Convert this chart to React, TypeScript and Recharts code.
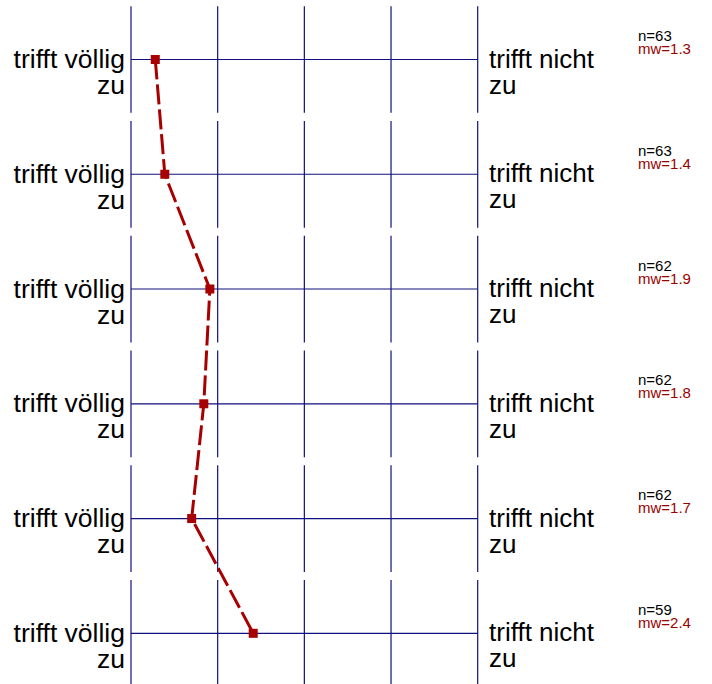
import React from 'react';
import { ComposedChart, Line, XAxis, YAxis, ReferenceLine } from 'recharts';

// one row per item, top to bottom
const ROWS = [0, 1, 2, 3, 4, 5];
const MEAN_VALUES = [1.28, 1.39, 1.91, 1.84, 1.7, 2.41];
const N_LABELS = ['n=63', 'n=63', 'n=62', 'n=62', 'n=62', 'n=59'];
const MW_LABELS = ['mw=1.3', 'mw=1.4', 'mw=1.9', 'mw=1.8', 'mw=1.7', 'mw=2.4'];
const LEFT_POLE = ['trifft völlig', 'zu'];
const RIGHT_POLE = ['trifft nicht', 'zu'];
const SCALE_STEPS = [1, 2, 3, 4, 5];

const GRID = '#10107e';
const RED = '#a80000';
const FONT = '"Liberation Sans", Arial, sans-serif';

const chartData = ROWS.map((row, i) => ({ row, mw: MEAN_VALUES[i] }));

const LeftTick = (props: any) => {
  const { y } = props;
  return (
    <g>
      <text x={125} y={y + 8.5} textAnchor="end" fontSize={26.5} fontFamily={FONT} fill="#000">
        {LEFT_POLE[0]}
      </text>
      <text x={125} y={y + 34.5} textAnchor="end" fontSize={26.5} fontFamily={FONT} fill="#000">
        {LEFT_POLE[1]}
      </text>
    </g>
  );
};

const RightTick = (props: any) => {
  const { y, index } = props;
  return (
    <g>
      <text x={489} y={y + 8} fontSize={26} fontFamily={FONT} fill="#000">
        {RIGHT_POLE[0]}
      </text>
      <text x={489} y={y + 34} fontSize={26} fontFamily={FONT} fill="#000">
        {RIGHT_POLE[1]}
      </text>
      <text x={638} y={y - 18.5} fontSize={15} fontFamily={FONT} fill="#000">
        {N_LABELS[index]}
      </text>
      <text x={638} y={y - 5.5} fontSize={15} fontFamily={FONT} fill="#990000">
        {MW_LABELS[index]}
      </text>
    </g>
  );
};

const SquareDot = (props: any) => {
  const { cx, cy, index } = props;
  return <rect key={`dot-${index}`} x={cx - 4.5} y={cy - 4.5} width={9} height={9} fill={RED} />;
};

const Y_DOMAIN: [number, number] = [-0.5185, 5.4418];

export default function App() {
  return (
    <div style={{ position: 'absolute', left: 0, top: 0, background: '#fff' }}>
      <ComposedChart
        width={712}
        height={684}
        layout="vertical"
        data={chartData}
        margin={{ top: 0, right: 0, bottom: 0, left: 0 }}
      >
        <XAxis type="number" domain={[1, 5]} hide allowDataOverflow />
        <YAxis
          yAxisId="left"
          type="number"
          dataKey="row"
          orientation="left"
          width={131}
          domain={Y_DOMAIN}
          allowDataOverflow
          ticks={ROWS}
          interval={0}
          axisLine={false}
          tickLine={false}
          tick={(p: any) => <LeftTick {...p} />}
        />
        <YAxis
          yAxisId="right"
          type="number"
          dataKey="row"
          orientation="right"
          width={234.3}
          domain={Y_DOMAIN}
          allowDataOverflow
          ticks={ROWS}
          interval={0}
          axisLine={false}
          tickLine={false}
          tick={(p: any) => <RightTick {...p} />}
        />

        {ROWS.map((r) => (
          <ReferenceLine key={`h-${r}`} yAxisId="left" y={r} stroke={GRID} strokeWidth={1.2} ifOverflow="visible" />
        ))}
        {ROWS.map((r) =>
          SCALE_STEPS.map((s) => (
            <ReferenceLine
              key={`v-${r}-${s}`}
              yAxisId="left"
              segment={[
                { x: s, y: r - 0.465 },
                { x: s, y: r + 0.465 },
              ]}
              stroke={GRID}
              strokeWidth={1.2}
              ifOverflow="visible"
            />
          ))
        )}

        <Line
          yAxisId="left"
          type="linear"
          dataKey="mw"
          stroke={RED}
          strokeWidth={3}
          strokeDasharray="20 5"
          dot={(p: any) => <SquareDot {...p} />}
          activeDot={false}
          isAnimationActive={false}
        />
      </ComposedChart>
    </div>
  );
}
